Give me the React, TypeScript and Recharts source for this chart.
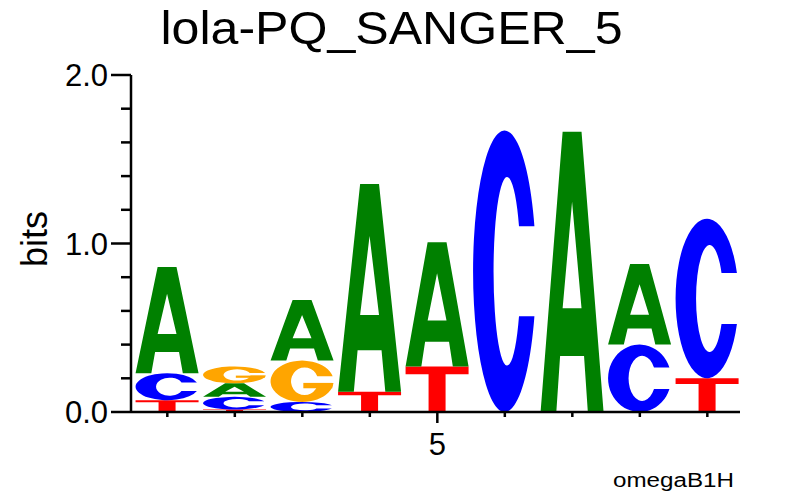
import React from 'react';
import { BarChart, Bar, XAxis, YAxis } from 'recharts';

const positions = [1, 2, 3, 4, 5, 6, 7, 8, 9];
const bitsA = [0.63, 0.08, 0.36, 1.233, 0.737, 0, 1.663, 0.478, 0];
const bitsC = [0.16, 0.075, 0.06, 0, 0, 1.67, 0, 0.4, 0.947];
const bitsG = [0, 0.1, 0.245, 0, 0, 0, 0, 0, 0];
const bitsT = [0.07, 0.015, 0, 0.12, 0.27, 0, 0, 0, 0.2];

const yTicks = [0, 0.2, 0.4, 0.6, 0.8, 1, 1.2, 1.4, 1.6, 1.8, 2];
const xLabels: Record<number, string> = { 5: '5' };

const COLORS: Record<string, string> = { A: '#008000', C: '#0000ff', G: '#ffa500', T: '#ff0000' };
const FONT = '"Liberation Sans", Arial, Helvetica, sans-serif';

// smallest letter at the bottom of each stack
const rows = positions.map((pos, i) => {
    const items: [string, number][] = [
        ['A', bitsA[i]], ['C', bitsC[i]], ['G', bitsG[i]], ['T', bitsT[i]],
    ];
    const sorted = items.filter((d) => d[1] > 0).sort((a, b) => a[1] - b[1]);
    const row: any = { pos };
    sorted.forEach((d, k) => {
        row['s' + k] = d[1];
        row['l' + k] = d[0];
    });
    return row;
});

const ellX = (cx: number, rx: number, cy: number, ry: number, yy: number) =>
    cx + rx * Math.sqrt(Math.max(0, 1 - ((yy - cy) / ry) ** 2));

const Glyph = ({ letter, x, y, w, h }: any) => {
    if (!letter || h <= 0.3) return null;
    const fill = COLORS[letter];
    const px = (u: number) => x + u * w;
    const py = (v: number) => y + v * h;
    if (letter === 'A') {
        const d = `M${px(0)},${py(1)} L${px(0.35)},${py(0)} L${px(0.65)},${py(0)} L${px(1)},${py(1)} L${px(0.75)},${py(1)} L${px(0.69)},${py(0.8)} L${px(0.31)},${py(0.8)} L${px(0.25)},${py(1)} Z ` +
            `M${px(0.35)},${py(0.63)} L${px(0.65)},${py(0.63)} L${px(0.5)},${py(0.25)} Z`;
        return <path d={d} fill={fill} fillRule="evenodd" />;
    }
    if (letter === 'T') {
        const d = `M${px(0)},${py(0)} L${px(1)},${py(0)} L${px(1)},${py(0.17)} L${px(0.635)},${py(0.17)} L${px(0.635)},${py(1)} L${px(0.365)},${py(1)} L${px(0.365)},${py(0.17)} L${px(0)},${py(0.17)} Z`;
        return <path d={d} fill={fill} />;
    }
    // C and G: elliptical ring with an opening on the right
    const cx = x + w / 2, cy = y + h / 2, rx = w / 2, ry = h / 2;
    const icx = x + 0.54 * w, irx = 0.215 * w, iry = 0.335 * h;
    const top = py(letter === 'G' ? 0.38 : 0.34);
    const bot = py(letter === 'G' ? 0.54 : 0.66);
    const d = `M${ellX(cx, rx, cy, ry, top)},${top} A${rx},${ry} 0 1 0 ${ellX(cx, rx, cy, ry, bot)},${bot} ` +
        `L${ellX(icx, irx, cy, iry, bot)},${bot} A${irx},${iry} 0 1 1 ${ellX(icx, irx, cy, iry, top)},${top} Z`;
    if (letter === 'C') return <path d={d} fill={fill} />;
    return (
        <g>
            <path d={d} fill={fill} />
            <rect x={px(0.52)} y={py(0.54)} width={w * 0.46} height={h * 0.13} fill={fill} />
        </g>
    );
};

const slotShape = (k: number) => (p: any) => (
    <Glyph letter={p.payload['l' + k]} x={p.x} y={p.y} w={p.width} h={p.height} />
);

const YTick = ({ x, y, payload }: any) => {
    const v = payload.value;
    const major = Math.abs(v - Math.round(v)) < 1e-6;
    return (
        <g>
            <line x1={x - (major ? 20 : 10)} x2={x} y1={y} y2={y} stroke="#000" strokeWidth={2.5} />
            {major && (
                <text x={x - 23} y={y} dy="0.37em" textAnchor="end" fontFamily={FONT} fontSize={31} fill="#000">
                    {v.toFixed(1)}
                </text>
            )}
        </g>
    );
};

const XTick = ({ x, y, payload }: any) => {
    const label = xLabels[payload.value];
    return (
        <g>
            <line x1={x} x2={x} y1={y} y2={y + (label ? 11 : 5)} stroke="#000" strokeWidth={2.5} />
            {label && (
                <text x={x} y={455} textAnchor="middle" fontFamily={FONT} fontSize={31} fill="#000">
                    {label}
                </text>
            )}
        </g>
    );
};

const App: React.FC = () => {
    return (
        <div style={{ position: 'absolute', left: 0, top: 0, width: 788, height: 496, background: '#fff' }}>
            <BarChart width={788} height={496} data={rows} margin={{ top: 75, right: 48, bottom: 44, left: 71 }}>
                <XAxis
                    type="number"
                    dataKey="pos"
                    domain={[0.462, 9.484]}
                    ticks={positions}
                    allowDataOverflow
                    height={40}
                    tickSize={0}
                    tickMargin={0}
                    tickLine={false}
                    axisLine={{ stroke: '#000', strokeWidth: 2.5 }}
                    tick={<XTick />}
                    interval={0}
                />
                <YAxis
                    type="number"
                    domain={[0, 2]}
                    ticks={yTicks}
                    width={60}
                    tickSize={0}
                    tickMargin={0}
                    tickLine={false}
                    axisLine={{ stroke: '#000', strokeWidth: 2.5 }}
                    tick={<YTick />}
                    interval={0}
                />
                {[0, 1, 2, 3].map((k) => (
                    <Bar
                        key={k}
                        dataKey={'s' + k}
                        stackId="logo"
                        barSize={63}
                        isAnimationActive={false}
                        shape={slotShape(k)}
                    />
                ))}
            </BarChart>
            <svg width={788} height={496} style={{ position: 'absolute', left: 0, top: 0, pointerEvents: 'none' }}>
                <text x={391.5} y={44} textAnchor="middle" fontFamily={FONT} fontSize={47} textLength={462} lengthAdjust="spacingAndGlyphs" fill="#000">
                    lola-PQ_SANGER_5
                </text>
                <text transform="translate(47,239) rotate(-90)" textAnchor="middle" fontFamily={FONT} fontSize={36} fill="#000">
                    bits
                </text>
                <text x={613} y={487} fontFamily={FONT} fontSize={20} textLength={121} lengthAdjust="spacingAndGlyphs" fill="#000">
                    omegaB1H
                </text>
            </svg>
        </div>
    );
};

export default App;
